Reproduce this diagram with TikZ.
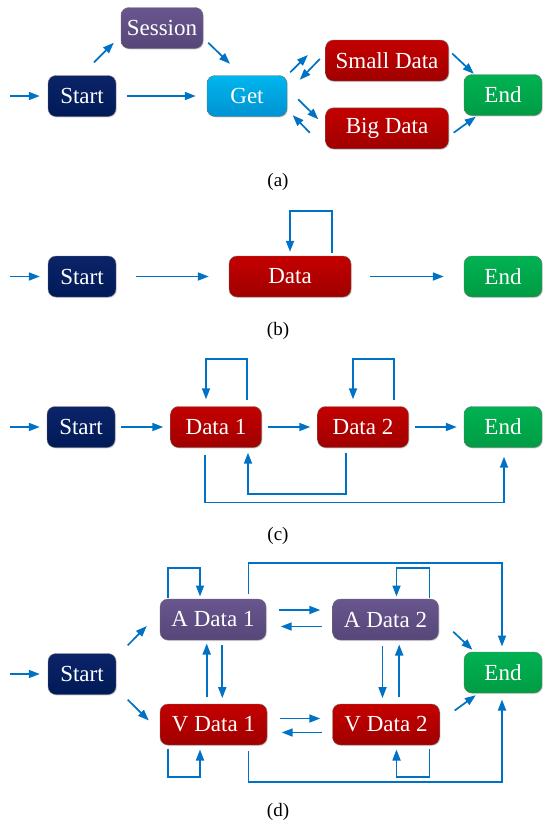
\documentclass[tikz,border=0pt]{standalone}
\usepackage{fontspec}
\setmainfont{Liberation Serif}
\usetikzlibrary{arrows.meta,shadows}
\definecolor{arrblue}{RGB}{0,114,198}
\definecolor{navytop}{RGB}{12,36,104}
\definecolor{navybot}{RGB}{0,26,88}
\definecolor{purptop}{RGB}{104,86,142}
\definecolor{purpbot}{RGB}{86,70,120}
\definecolor{cyantop}{RGB}{0,182,238}
\definecolor{cyanbot}{RGB}{0,146,210}
\definecolor{redtop}{RGB}{196,0,0}
\definecolor{redbot}{RGB}{160,0,0}
\definecolor{greentop}{RGB}{0,178,82}
\definecolor{greenbot}{RGB}{0,156,68}

\begin{document}
\begin{tikzpicture}[x=1pt, y=-1pt,
	box/.style={draw=black!55, rounded corners=8pt, minimum height=41pt, inner sep=0pt,
		text=white, font=\fontsize{23}{27}\selectfont,
		drop shadow={shadow xshift=1pt, shadow yshift=-1pt, opacity=0.25}},
	startbox/.style={box, minimum width=68pt, top color=navytop, bottom color=navybot},
	purpbox/.style={box, top color=purptop, bottom color=purpbot},
	getbox/.style={box, minimum width=80pt, top color=cyantop, bottom color=cyanbot},
	databox/.style={box, top color=redtop, bottom color=redbot},
	endbox/.style={box, minimum width=78pt, top color=greentop, bottom color=greenbot},
	arr/.style={draw=arrblue, line width=1.7pt, -{Triangle[length=11pt,width=8pt]}},
	captext/.style={font=\fontsize{19}{22}\selectfont}]
	\useasboundingbox (0,0) rectangle (543,822);

	% (a)
	\coordinate (ina) at (10,96);
	\node[startbox] (starta) at (82,96) {Start};
	\node[purpbox, minimum width=82pt] (session) at (162,28) {Session};
	\node[getbox] (get) at (247,96) {Get};
	\node[databox, minimum width=123pt] (small) at (387,60.5) {Small Data};
	\node[databox, minimum width=123pt] (big) at (387,128.3) {Big Data};
	\node[endbox] (enda) at (503,95) {End};
	\draw[arr, shorten >=8pt] (ina) -- (starta);
	\draw[arr, shorten <=11pt, shorten >=11pt] (starta) -- (get);
	\draw[arr] ([shift={(12,-13)}]starta.north) -- ([shift={(-7,-6)}]session.south west);
	\draw[arr] ([shift={(5,-6)}]session.south east) -- ([shift={(-17,-11.5)}]get.north);
	\draw[arr] ([shift={(3,-3)}]get.north east) -- ([shift={(-17.5,-5.5)}]small.west);
	\draw[arr] ([shift={(-5.5,-1.5)}]small.west) -- ([shift={(12.5,4.5)}]get.north east);
	\draw[arr] ([shift={(11,3.3)}]get.east) -- ([shift={(-7,-9)}]big.west);
	\draw[arr] ([shift={(-15.5,4.4)}]big.west) -- ([shift={(5.5,-1.5)}]get.south east);
	\draw[arr] ([shift={(3.5,-7)}]small.east) -- ([shift={(10,-0.5)}]enda.north west);
	\draw[arr] ([shift={(5,4.4)}]big.east) -- ([shift={(12,1)}]enda.south west);
	\node[captext] (capa) at (278,181.7) {(a)};

	% (b)
	\coordinate (inb) at (10,276.5);
	\node[startbox] (startb) at (82,276.5) {Start};
	\node[databox, minimum width=122pt] (data) at (290,276.5) {Data};
	\node[endbox] (endb) at (503,276.5) {End};
	\draw[arr, shorten >=8pt] (inb) -- (startb);
	\draw[arr, shorten <=20pt, shorten >=20pt] (startb) -- (data);
	\draw[arr, shorten <=19pt, shorten >=20pt] (data) -- (endb);
	\draw[arr] ([shift={(42,-3)}]data.north) -- ++(0,-41.6) -| ([shift={(0,-4)}]data.north);
	\node[captext] (capb) at (278,330.7) {(b)};

	% (c)
	\coordinate (inc) at (10,427);
	\node[startbox] (startc) at (81,427) {Start};
	\node[databox, minimum width=91pt] (dataa) at (216,427) {Data 1};
	\node[databox, minimum width=91pt] (datab) at (363,427) {Data 2};
	\node[endbox] (endc) at (503,427) {End};
	\draw[arr, shorten >=7pt] (inc) -- (startc);
	\draw[arr, shorten <=6pt, shorten >=7pt] (startc) -- (dataa);
	\draw[arr, shorten <=6pt, shorten >=7pt] (dataa) -- (datab);
	\draw[arr, shorten <=6pt, shorten >=7pt] (datab) -- (endc);
	\draw[arr] ([shift={(31,-6)}]dataa.north) -- ++(0,-41.4) -| ([shift={(-10,-7)}]dataa.north);
	\draw[arr] ([shift={(31,-6)}]datab.north) -- ++(0,-41.4) -| ([shift={(-10,-7)}]datab.north);
	\draw[arr] ([shift={(-17,5)}]datab.south) -- ++(0,41.3) -| ([shift={(32,5)}]dataa.south);
	\draw[arr] ([shift={(-11,7.5)}]dataa.south) -- ++(0,47.3) -| ([shift={(1,9)}]endc.south);
	\node[captext] (capc) at (278,536) {(c)};

	% (d)
	\coordinate (ind) at (10,674);
	\node[startbox] (startd) at (82,674) {Start};
	\node[purpbox, minimum width=106pt] (aone) at (213,619.5) {A Data 1};
	\node[purpbox, minimum width=106pt] (atwo) at (385.5,619.5) {A Data 2};
	\node[databox, minimum width=107pt] (vone) at (213.5,724.5) {V Data 1};
	\node[databox, minimum width=107pt] (vtwo) at (386,724.5) {V Data 2};
	\node[endbox] (endd) at (503,672.5) {End};
	\draw[arr, shorten >=8pt] (ind) -- (startd);
	\draw[arr] ([shift={(11.5,-8)}]startd.north east) -- ([shift={(-13,6.5)}]aone.west);
	\draw[arr] ([shift={(11.5,5)}]startd.south east) -- ([shift={(-11,-4)}]vone.west);
	\draw[arr] ([shift={(12.7,-9.5)}]aone.east) -- ([shift={(-12,-9.5)}]atwo.west);
	\draw[arr] ([shift={(-10.5,7)}]atwo.west) -- ([shift={(14.5,7)}]aone.east);
	\draw[arr] ([shift={(12.7,-6)}]vone.east) -- ([shift={(-12,-6)}]vtwo.west);
	\draw[arr] ([shift={(-10.5,8)}]vtwo.west) -- ([shift={(14.5,8)}]vone.east);
	\draw[arr] ([shift={(-6.8,-7.3)}]vone.north) -- ([shift={(-6.3,3.3)}]aone.south);
	\draw[arr] ([shift={(9.3,5)}]aone.south) -- ([shift={(8.8,-5.7)}]vone.north);
	\draw[arr] ([shift={(-3,6)}]atwo.south) -- ([shift={(-3.5,-5.7)}]vtwo.north);
	\draw[arr] ([shift={(13.2,-7.3)}]vtwo.north) -- ([shift={(13.7,4.3)}]atwo.south);
	\draw[arr] ([shift={(-45,-1.3)}]aone.north) -- ++(0,-29.4) -| ([shift={(-13,-2.3)}]aone.north);
	\draw[arr] ([shift={(44,-1.3)}]atwo.north) -- ++(0,-29.4) -| ([shift={(11,-2.3)}]atwo.north);
	\draw[arr] ([shift={(-45.5,3.3)}]vone.south) -- ++(0,28.4) -| ([shift={(-13.5,4.3)}]vone.south);
	\draw[arr] ([shift={(43.5,3.3)}]vtwo.south) -- ++(0,28.4) -| ([shift={(10.5,4.3)}]vtwo.south);
	\draw[arr] ([shift={(35.6,-5)}]aone.north) -- ++(0,-30.7) -| ([shift={(-1,-5.3)}]endd.north);
	\draw[arr] ([shift={(35.1,6)}]vone.south) -- ++(0,30.7) -| ([shift={(-1,6.3)}]endd.south);
	\draw[arr] ([shift={(14.5,12.2)}]atwo.east) -- ([shift={(8.6,-2)}]endd.north west);
	\draw[arr] ([shift={(15,-14)}]vtwo.east) -- ([shift={(12,2)}]endd.south west);
	\node[captext] (capd) at (278,812) {(d)};
\end{tikzpicture}
\end{document}
